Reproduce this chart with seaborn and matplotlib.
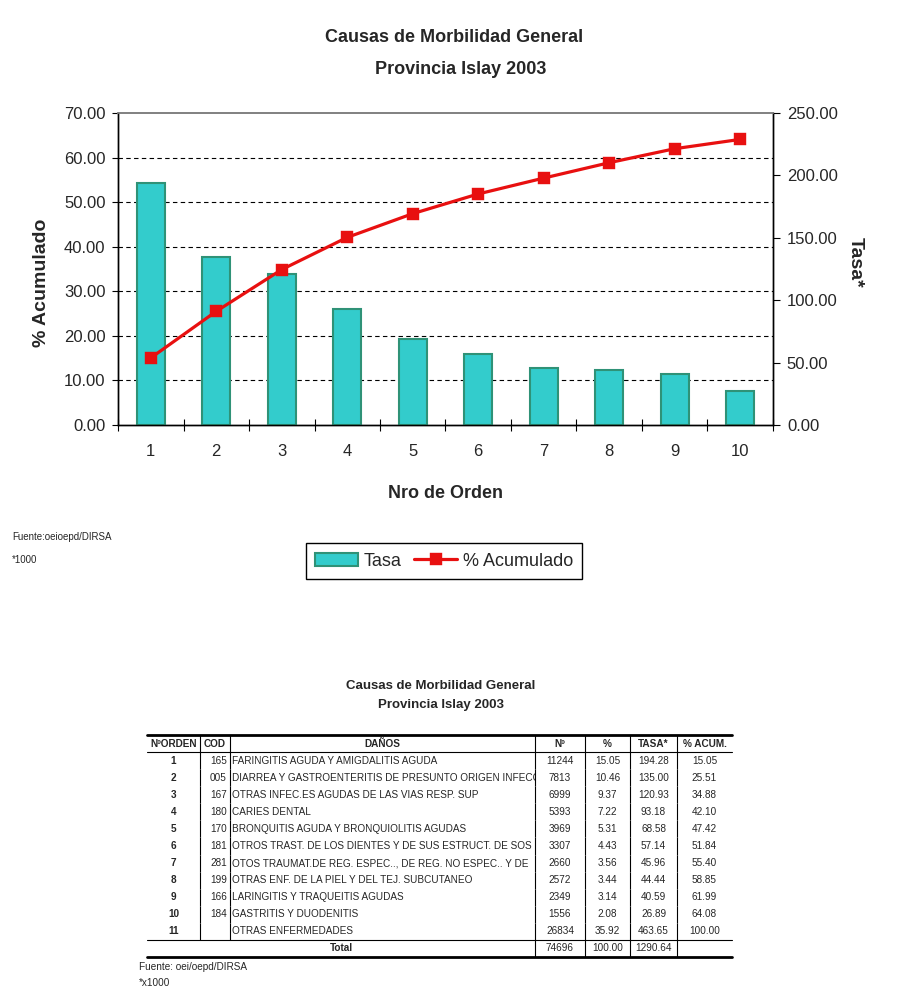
import numpy as np
import pandas as pd
import seaborn as sns
import matplotlib.pyplot as plt

# chart data (top 10 causes)
orden = [1, 2, 3, 4, 5, 6, 7, 8, 9, 10]
tasa = [194.28, 135.00, 120.93, 93.18, 68.58, 57.14, 45.96, 44.44, 40.59, 26.89]
acumulado = [15.05, 25.51, 34.88, 42.10, 47.42, 51.84, 55.40, 58.85, 61.99, 64.08]

# table data
tab_orden = ['1', '2', '3', '4', '5', '6', '7', '8', '9', '10', '11']
tab_cod = ['165', '005', '167', '180', '170', '181', '281', '199', '166', '184', '']
tab_danos = [
    'FARINGITIS AGUDA Y AMIGDALITIS AGUDA',
    'DIARREA Y GASTROENTERITIS DE PRESUNTO ORIGEN INFECC',
    'OTRAS INFEC.ES AGUDAS DE LAS VIAS RESP. SUP',
    'CARIES DENTAL',
    'BRONQUITIS AGUDA Y BRONQUIOLITIS AGUDAS',
    'OTROS TRAST. DE LOS DIENTES Y DE SUS ESTRUCT. DE SOS',
    'OTOS TRAUMAT.DE REG. ESPEC.., DE REG. NO ESPEC.. Y DE',
    'OTRAS ENF. DE LA PIEL Y DEL TEJ. SUBCUTANEO',
    'LARINGITIS Y TRAQUEITIS AGUDAS',
    'GASTRITIS Y DUODENITIS',
    'OTRAS ENFERMEDADES',
]
tab_casos = ['11244', '7813', '6999', '5393', '3969', '3307', '2660', '2572', '2349', '1556', '26834']
tab_pct = ['15.05', '10.46', '9.37', '7.22', '5.31', '4.43', '3.56', '3.44', '3.14', '2.08', '35.92']
tab_tasa = ['194.28', '135.00', '120.93', '93.18', '68.58', '57.14', '45.96', '44.44', '40.59', '26.89', '463.65']
tab_acum = ['15.05', '25.51', '34.88', '42.10', '47.42', '51.84', '55.40', '58.85', '61.99', '64.08', '100.00']
tab_header = ['NºORDEN', 'COD', 'DAÑOS', 'Nº', '%', 'TASA*', '% ACUM.']
tab_total = ['', '', '', '74696', '100.00', '1290.64', '']

BAR = '#33CCCC'
BAR_EDGE = '#2F9277'
RED = '#E81010'

sns.set_theme(style='white')
plt.rcParams['font.family'] = ['Liberation Sans', 'DejaVu Sans']

fig = plt.figure(figsize=(9, 10), dpi=100)
ax = fig.add_axes([118/900, 1-425/1000, 655/900, 312/1000])
ax2 = ax.twinx()
ax3 = ax.twinx()

sns.barplot(x=orden, y=tasa, ax=ax2, color=BAR, saturation=1, width=0.42,
            edgecolor=BAR_EDGE, linewidth=1.5)
sns.pointplot(x=orden, y=acumulado, ax=ax3, color=RED, markers='s',
              markersize=7, linewidth=2.3, errorbar=None)

# left axis: % Acumulado, holds the grid
ax.set_ylim(0, 70)
ax.set_yticks(np.arange(0, 71, 10))
ax.yaxis.set_major_formatter(plt.FormatStrFormatter('%.2f'))
ax.yaxis.grid(True, color='black', linestyle=(0, (4, 3)), linewidth=0.8)
gl = ax.yaxis.get_gridlines()
gl[0].set_visible(False)
gl[-1].set_visible(False)
ax.tick_params(axis='y', which='major', direction='out', length=4, width=0.8,
               color='black', labelsize=12, pad=5, left=True)

# right axis: Tasa
ax2.set_ylim(0, 250)
ax2.set_yticks(np.arange(0, 251, 50))
ax2.yaxis.set_major_formatter(plt.FormatStrFormatter('%.2f'))
ax2.tick_params(axis='y', direction='out', length=5, width=0.8, color='black',
                labelsize=12, pad=5, right=True)
ax2.set_ylabel('')
ax2.set_xlabel('')

ax3.set_ylim(0, 70)
ax3.axis('off')

# x axis: tick marks between categories, labels under them
ax.set_xlim(-0.5, len(orden) - 0.5)
ax.set_xticks(np.arange(len(orden) + 1) - 0.5, labels=[''] * (len(orden) + 1))
ax.set_xticks(np.arange(len(orden)), labels=[str(o) for o in orden], minor=True)
ax.tick_params(axis='x', which='major', direction='inout', length=9, width=0.8,
               color='black', bottom=True)
ax.tick_params(axis='x', which='minor', length=0, labelsize=12, pad=14, bottom=True)

for a in (ax, ax2):
    for s in ('left', 'right', 'bottom'):
        a.spines[s].set_color('black')
        a.spines[s].set_linewidth(1.0)
    a.spines['top'].set_color('#808080')
    a.spines['top'].set_linewidth(1.2)

fig.text(0.505, 1-37/1000, 'Causas de Morbilidad General', ha='center', va='center',
         fontsize=13, fontweight='bold')
fig.text(0.512, 1-69/1000, 'Provincia Islay 2003', ha='center', va='center',
         fontsize=13, fontweight='bold')
fig.text(42/900, 1-283/1000, '% Acumulado', rotation=90, ha='center', va='center',
         fontsize=14, fontweight='bold')
fig.text(855/900, 1-262/1000, 'Tasa*', rotation=-90, ha='center', va='center',
         fontsize=14, fontweight='bold')
fig.text(445/900, 1-494/1000, 'Nro de Orden', ha='center', va='center',
         fontsize=13, fontweight='bold')
fig.text(12/900, 1-537/1000, 'Fuente:oeioepd/DIRSA', ha='left', va='center', fontsize=7)
fig.text(12/900, 1-560/1000, '*1000', ha='left', va='center', fontsize=7)

leg = fig.legend(handles=[ax2.patches[0], ax3.lines[0]], labels=['Tasa', '% Acumulado'],
                 loc='center', bbox_to_anchor=(444/900, 1-561/1000), ncol=2,
                 frameon=True, fancybox=False, edgecolor='black', fontsize=13,
                 handlelength=2.4, handletextpad=0.3, columnspacing=0.7,
                 borderpad=0.5, framealpha=1)
leg.get_frame().set_linewidth(1.0)

# ---------------- table ----------------
fig.text(441/900, 1-686/1000, 'Causas de Morbilidad General', ha='center', va='center',
         fontsize=9.5, fontweight='bold')
fig.text(441/900, 1-705/1000, 'Provincia Islay 2003', ha='center', va='center',
         fontsize=9.5, fontweight='bold')

rows = [tab_header]
for i in range(len(tab_orden)):
    rows.append([tab_orden[i], tab_cod[i], tab_danos[i], tab_casos[i],
                 tab_pct[i], tab_tasa[i], tab_acum[i]])
rows.append(tab_total)

col_px = [53, 30, 305, 50, 45, 47, 55]
col_w = [c / sum(col_px) for c in col_px]
n_rows = len(rows)
FS = 7.2

axt = fig.add_axes([147/900, 1-957/1000, 585/900, 222/1000])
axt.axis('off')
tbl = axt.table(cellText=rows, colWidths=col_w, bbox=[0, 0, 1, 1], cellLoc='center')
tbl.auto_set_font_size(False)
tbl.set_fontsize(FS)
aligns = ['center', 'right', 'left', 'center', 'center', 'center', 'center']
for (r, c), cell in tbl.get_celld().items():
    cell.set_linewidth(0.8)
    cell.set_edgecolor('black')
    cell.PAD = 0.1 if c != 2 else 0.005
    txt = cell.get_text()
    cell._loc = aligns[c] if r > 0 else 'center'
    txt.set_ha(cell._loc)
    if r == 0 or (c == 0 and r < n_rows - 1):
        txt.set_fontweight('bold')
    if r == n_rows - 1 and c < 2:
        cell.visible_edges = ''
    elif c == len(col_px) - 1:
        cell.visible_edges = ''
    else:
        cell.visible_edges = 'R'

fig.canvas.draw()
# long names are cut at the cell border, as in the sheet
for (r, c), cell in tbl.get_celld().items():
    if c == 2:
        txt = cell.get_text()
        txt.set_clip_on(True)
        txt.set_clip_path(cell)

left3 = sum(col_w[:3])
axt.text(left3 / 2, 0.5 / n_rows, 'Total', ha='center', va='center',
         fontsize=FS, fontweight='bold', transform=axt.transAxes)
for yy, lw in [(1, 2.0), ((n_rows - 1) / n_rows, 0.8), (1 / n_rows, 0.8), (0, 2.0)]:
    axt.axhline(yy, color='black', linewidth=lw, clip_on=False)

fig.text(139/900, 1-967/1000, 'Fuente: oei/oepd/DIRSA', ha='left', va='center', fontsize=7.2)
fig.text(139/900, 1-983/1000, '*x1000', ha='left', va='center', fontsize=7.2)

fig.savefig('out.png', dpi=100, facecolor='white')
